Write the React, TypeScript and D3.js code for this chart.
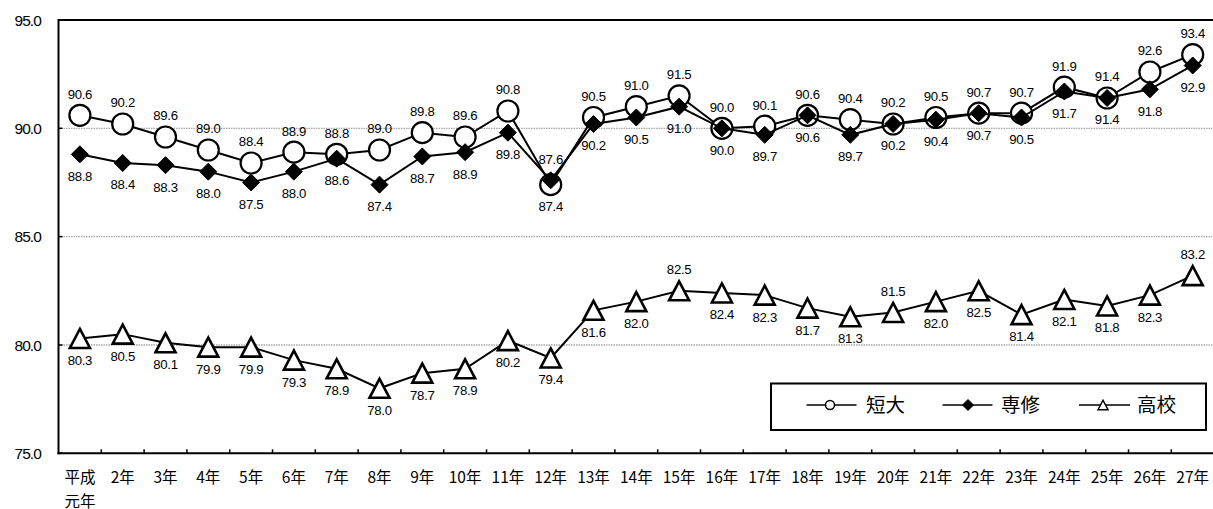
import React from "react";
import * as d3 from "d3";

const categories: string[] = [
  "平成\n元年", "2年", "3年", "4年", "5年", "6年", "7年", "8年", "9年", "10年",
  "11年", "12年", "13年", "14年", "15年", "16年", "17年", "18年", "19年", "20年",
  "21年", "22年", "23年", "24年", "25年", "26年", "27年",
];

const tandai: number[] = [
  90.6, 90.2, 89.6, 89.0, 88.4, 88.9, 88.8, 89.0, 89.8, 89.6, 90.8, 87.4, 90.5, 91.0,
  91.5, 90.0, 90.1, 90.6, 90.4, 90.2, 90.5, 90.7, 90.7, 91.9, 91.4, 92.6, 93.4,
];
const senshu: number[] = [
  88.8, 88.4, 88.3, 88.0, 87.5, 88.0, 88.6, 87.4, 88.7, 88.9, 89.8, 87.6, 90.2, 90.5,
  91.0, 90.0, 89.7, 90.6, 89.7, 90.2, 90.4, 90.7, 90.5, 91.7, 91.4, 91.8, 92.9,
];
const koko: number[] = [
  80.3, 80.5, 80.1, 79.9, 79.9, 79.3, 78.9, 78.0, 78.7, 78.9, 80.2, 79.4, 81.6, 82.0,
  82.5, 82.4, 82.3, 81.7, 81.3, 81.5, 82.0, 82.5, 81.4, 82.1, 81.8, 82.3, 83.2,
];

// label placement: "a" = above, "b" = below
const tandaiLabelPos: string[] = categories.map((_, i) => (i === 11 ? "b" : "a"));
const senshuLabelPos: string[] = categories.map((_, i) => (i === 11 ? "a" : "b"));
const kokoLabelPos: string[] = categories.map((_, i) => (i === 14 || i === 19 || i === 26 ? "a" : "b"));

const yTicks: number[] = [75, 80, 85, 90, 95];
const gridValues: number[] = [80, 85, 90];

const W = 1213;
const H = 509;
const left = 58.5;
const right = 1214.1;
const top = 20;
const bottom = 453.3;

const numFont = "'Liberation Sans', Arial, sans-serif";
const jpFont = "'Noto Sans CJK JP', sans-serif";

type Marker = "circle" | "diamond" | "triangle";

function MarkerShape({ type, cx, cy, size, sw }: { type: Marker; cx: number; cy: number; size: number; sw: number }) {
  if (type === "circle") {
    return <circle cx={cx} cy={cy} r={size} fill="#fff" stroke="#000" strokeWidth={sw} />;
  }
  if (type === "diamond") {
    const s = size;
    return (
      <path
        d={`M${cx},${cy - s}L${cx + s},${cy}L${cx},${cy + s}L${cx - s},${cy}Z`}
        fill="#000"
        stroke="#000"
        strokeWidth={1}
      />
    );
  }
  const s = size;
  const h = s * 1.9;
  return (
    <path
      d={`M${cx},${cy - h / 2}L${cx + s},${cy + h / 2}L${cx - s},${cy + h / 2}Z`}
      fill="#fff"
      stroke="#000"
      strokeWidth={sw}
      strokeLinejoin="miter"
    />
  );
}

export default function App() {
  const x = d3.scaleBand<string>().domain(categories).range([left, right]).padding(0);
  const y = d3.scaleLinear().domain([75, 95]).range([bottom, top]);
  const cx = (i: number) => (x(categories[i]) as number) + x.bandwidth() / 2;

  const line = d3
    .line<number>()
    .x((_, i) => cx(i))
    .y((d) => y(d));

  const series: { name: string; values: number[]; pos: string[]; marker: Marker; size: number; sw: number }[] = [
    { name: "短大", values: tandai, pos: tandaiLabelPos, marker: "circle", size: 10.5, sw: 2.2 },
    { name: "専修", values: senshu, pos: senshuLabelPos, marker: "diamond", size: 8.5, sw: 1 },
    { name: "高校", values: koko, pos: kokoLabelPos, marker: "triangle", size: 10, sw: 2.6 },
  ];

  const legendItems: { name: string; marker: Marker; x0: number; x1: number; mx: number; tx: number; size: number }[] = [
    { name: "短大", marker: "circle", x0: 806.5, x1: 856.5, mx: 830, tx: 866, size: 4.5 },
    { name: "専修", marker: "diamond", x0: 942.5, x1: 992.5, mx: 968, tx: 1001, size: 5.5 },
    { name: "高校", marker: "triangle", x0: 1079, x1: 1130, mx: 1103, tx: 1137, size: 5 },
  ];

  return (
    <svg
      width={W}
      height={H}
      style={{ position: "absolute", left: 0, top: 0, background: "#fff" }}
      viewBox={`0 0 ${W} ${H}`}
    >
      <rect x={0} y={0} width={W} height={H} fill="#fff" />
      {/* gridlines */}
      {gridValues.map((v) => (
        <line
          key={v}
          x1={left}
          x2={W}
          y1={y(v)}
          y2={y(v)}
          stroke="#a8a8a8"
          strokeWidth={1.4}
          strokeDasharray="1.5 1"
        />
      ))}
      {/* top border */}
      <line x1={left} x2={W} y1={top} y2={top} stroke="#000" strokeWidth={2} />
      {/* axes */}
      <line x1={left} x2={left} y1={top - 1} y2={bottom + 1} stroke="#000" strokeWidth={2} />
      <line x1={left - 1} x2={W} y1={bottom} y2={bottom} stroke="#000" strokeWidth={2} />
      {/* y ticks */}
      {yTicks.map((t) => (
        <g key={t}>
          <line x1={left} x2={left + 4} y1={y(t)} y2={y(t)} stroke="#000" strokeWidth={1.5} />
          <text
            x={41}
            y={y(t)}
            dy="0.36em"
            textAnchor="end"
            fontFamily={numFont}
            fontSize={15.5}
            letterSpacing={-0.9}
            fill="#000"
          >
            {t.toFixed(1)}
          </text>
        </g>
      ))}
      {/* x ticks */}
      {categories.slice(1).map((c) => (
        <line
          key={c}
          x1={x(c) as number}
          x2={x(c) as number}
          y1={bottom}
          y2={bottom - 4}
          stroke="#000"
          strokeWidth={1.5}
        />
      ))}
      {/* x labels */}
      {categories.map((c, i) => {
        const lines = c.split("\n");
        return (
          <text key={c} x={cx(i)} textAnchor="middle" fontFamily={jpFont} fontSize={15.5} fill="#000">
            {lines.map((l, k) => (
              <tspan key={k} x={cx(i)} y={482.5 + k * 24}>
                {l}
              </tspan>
            ))}
          </text>
        );
      })}
      {/* series */}
      {series.map((s) => (
        <g key={s.name}>
          <path d={line(s.values) as string} fill="none" stroke="#000" strokeWidth={2} />
          {s.values.map((v, i) => (
            <MarkerShape key={i} type={s.marker} cx={cx(i)} cy={y(v)} size={s.size} sw={s.sw} />
          ))}
        </g>
      ))}
      {/* data labels */}
      {series.map((s) => (
        <g key={s.name + "-lab"}>
          {s.values.map((v, i) => (
            <text
              key={i}
              x={cx(i)}
              y={y(v) + (s.pos[i] === "a" ? -16.5 : 26.5)}
              textAnchor="middle"
              fontFamily={numFont}
              fontSize={13.2}
              letterSpacing={-0.3}
              fill="#000"
            >
              {v.toFixed(1)}
            </text>
          ))}
        </g>
      ))}
      {/* legend */}
      <rect x={771} y={383.5} width={435} height={46.5} fill="#fff" stroke="#000" strokeWidth={2} />
      {legendItems.map((it) => (
        <g key={it.name}>
          <line x1={it.x0} x2={it.x1} y1={405} y2={405} stroke="#000" strokeWidth={1.5} />
          <MarkerShape type={it.marker} cx={it.mx} cy={405} size={it.size} sw={1.5} />
          <text
            x={it.tx}
            y={405}
            dy="0.36em"
            fontFamily={jpFont}
            fontSize={19.5}
            fill="#000"
          >
            {it.name}
          </text>
        </g>
      ))}
    </svg>
  );
}
